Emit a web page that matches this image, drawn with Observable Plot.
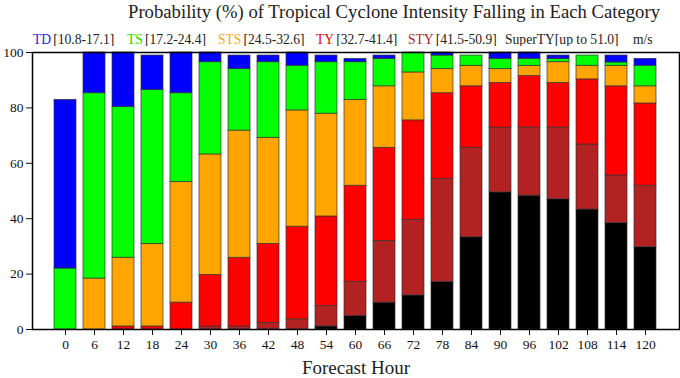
<!DOCTYPE html>
<html>
<head>
<meta charset="utf-8">
<script src="https://cdn.jsdelivr.net/npm/d3@7"></script>
<script src="https://cdn.jsdelivr.net/npm/@observablehq/plot@0.6"></script>
<style>
  body { margin: 0; width: 680px; height: 378px; background: #fff; position: relative; overflow: hidden;
         font-family: "Liberation Serif", "Times New Roman", Times, serif; color: #111; }
  #title { position: absolute; top: 0; left: 128px; font-size: 18.7px; line-height: 24px; white-space: nowrap; color: #222; }
  #legend { position: absolute; top: 31px; left: 0; width: 680px; height: 18px; font-size: 13.6px; line-height: 18px; }
  #legend span.item { position: absolute; top: 0; white-space: nowrap; }
  #legend span.rng { margin-left: 2px; color: #222; }
  #chart { position: absolute; top: 46px; left: 0; }
  #chart svg text { font-family: "Liberation Serif", "Times New Roman", Times, serif; }
</style>
</head>
<body>
<div id="title">Probability (%) of Tropical Cyclone Intensity Falling in Each Category</div>
<div id="legend"></div>
<div id="chart"></div>
<script>
const hours = [0, 6, 12, 18, 24, 30, 36, 42, 48, 54, 60, 66, 72, 78, 84, 90, 96, 102, 108, 114, 120];
const categories = ["SuperTY", "STY", "TY", "STS", "TS", "TD"];
const colors = ["#000000", "#b22222", "#ff0000", "#ffa500", "#00ff00", "#0000ff"];
const SuperTY = [0, 0, 0, 0, 0, 0, 0, 0, 0, 1.1, 4.9, 9.7, 12.3, 17.2, 33.3, 49.5, 48.3, 47.0, 43.3, 38.4, 29.7];
const STY     = [0, 0, 0, 0, 0, 1.1, 1.1, 2.4, 3.7, 7.4, 12.3, 22.3, 27.3, 37.2, 32.3, 23.4, 24.6, 25.9, 23.5, 17.2, 22.2];
const TY      = [0, 0, 1.1, 1.1, 9.7, 18.6, 24.8, 28.5, 33.4, 32.3, 34.7, 33.6, 35.9, 30.9, 22.2, 16.1, 18.6, 16.1, 23.5, 32.2, 29.7];
const STS     = [0, 18.4, 24.8, 29.8, 43.5, 43.5, 45.9, 38.3, 42.0, 37.1, 31.0, 22.2, 17.3, 8.7, 7.4, 5.0, 3.7, 7.5, 4.9, 7.4, 6.2];
const TS      = [22.0, 66.9, 54.4, 55.6, 32.1, 33.3, 22.2, 27.3, 16.1, 18.6, 13.6, 9.9, 7.2, 4.9, 3.7, 3.7, 2.5, 1.2, 3.7, 1.2, 7.4];
const TD      = [60.9, 14.7, 19.7, 12.4, 14.7, 3.5, 4.9, 2.4, 4.8, 2.4, 1.2, 1.2, 0, 1.1, 0, 2.3, 2.3, 1.2, 0, 2.5, 2.5];
const yTicks = [0, 20, 40, 60, 80, 100];

const legendItems = [
  {name: "TD", range: "[10.8-17.1]", color: "#2323e6"},
  {name: "TS", range: "[17.2-24.4]", color: "#00e600"},
  {name: "STS", range: "[24.5-32.6]", color: "#ffa500"},
  {name: "TY", range: "[32.7-41.4]", color: "#ee0000"},
  {name: "STY", range: "[41.5-50.9]", color: "#b22222"},
  {name: "SuperTY", range: "[up to 51.0]", color: "#222"},
  {name: "m/s", range: "", color: "#222"}
];
const legendX = [33, 127, 218, 316, 408, 505, 633];

const series = {SuperTY, STY, TY, STS, TS, TD};
const data = [];
categories.forEach(c => hours.forEach((h, i) => data.push({hour: h, cat: c, value: series[c][i]})));

const leg = document.getElementById("legend");
legendItems.forEach((it, i) => {
  const s = document.createElement("span");
  s.className = "item";
  s.style.left = legendX[i] + "px";
  s.innerHTML = `<span style="color:${it.color}">${it.name}</span>` + (it.range ? `<span class="rng" style="${it.name === 'SuperTY' ? 'margin-left:0' : ''}">${it.range}</span>` : "");
  leg.appendChild(s);
});

const serif = "Liberation Serif, Times New Roman, Times, serif";
const chart = Plot.plot({
  width: 680,
  height: 332,
  marginLeft: 32,
  marginRight: 1,
  marginTop: 6,
  marginBottom: 49,
  style: {fontFamily: serif, fontSize: "13.5px", color: "#111", background: "#fff", overflow: "visible"},
  x: {domain: hours, range: [46.3, 664.1], paddingInner: 0.24, paddingOuter: 0.12, label: null},
  y: {domain: [0, 100], label: null},
  color: {domain: categories, range: colors},
  marks: [
    Plot.barY(data, {x: "hour", y: "value", fill: "cat", order: categories, stroke: "#333", strokeWidth: 0.8, strokeOpacity: 0.85}),
    Plot.frame({stroke: "#000", strokeWidth: 1.5}),
    Plot.axisY({ticks: yTicks, tickSize: 6, tickPadding: 3, label: null, fontSize: 13.5, fontFamily: serif}),
    Plot.axisX({tickSize: 6, tickPadding: 4, label: null, fontSize: 13.5, fontFamily: serif}),
    Plot.text(["Forecast Hour"], {frameAnchor: "bottom", dy: 44, fontSize: 19, fill: "#222", fontFamily: serif})
  ]
});
document.getElementById("chart").appendChild(chart);
</script>
</body>
</html>
